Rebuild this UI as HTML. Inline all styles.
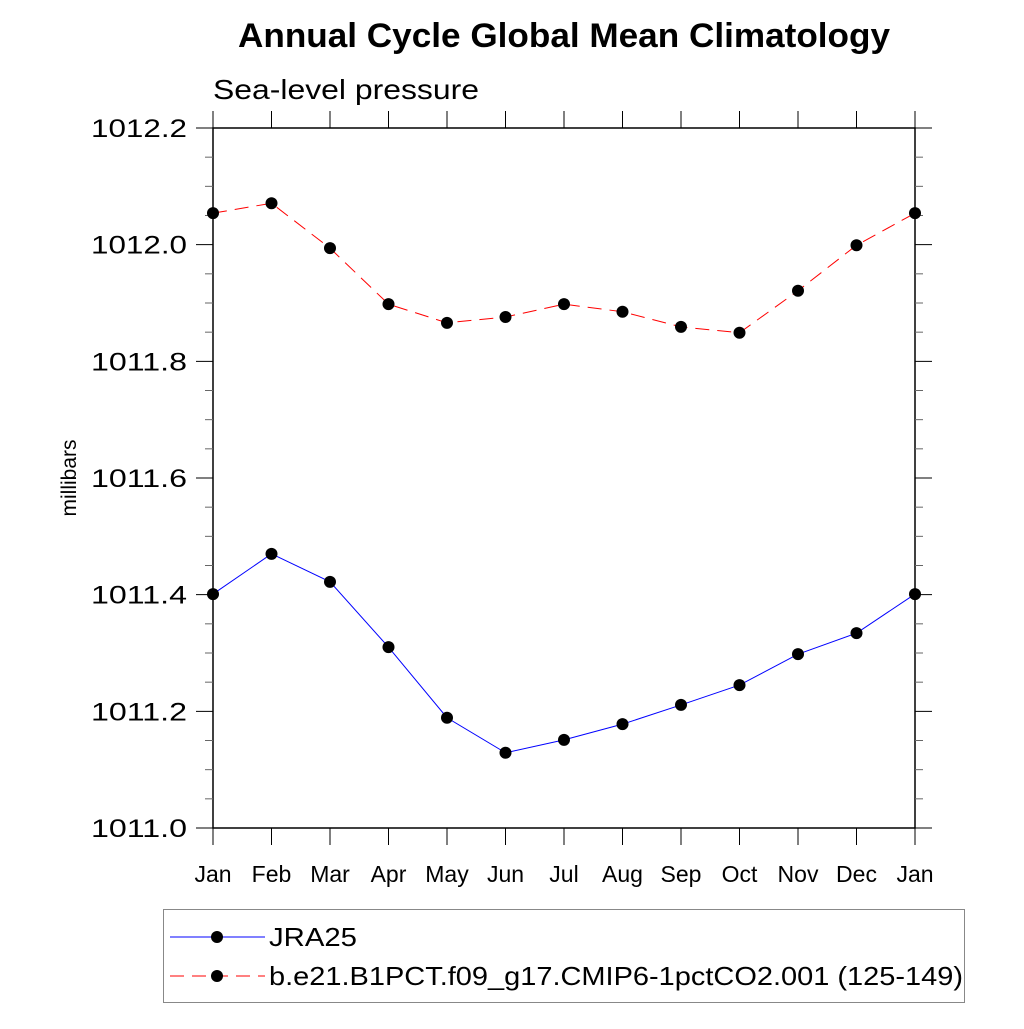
<!DOCTYPE html>
<html><head><meta charset="utf-8"><style>
body{margin:0;background:#fff}
svg text{font-family:"Liberation Sans",sans-serif}
</style></head><body>
<svg id="chart" width="1024" height="1024" xmlns="http://www.w3.org/2000/svg">
<text x="238" y="47" font-size="34" font-weight="bold" textLength="652" lengthAdjust="spacingAndGlyphs">Annual Cycle Global Mean Climatology</text>
<text x="213" y="99" font-size="28" textLength="266" lengthAdjust="spacingAndGlyphs">Sea-level pressure</text>
<text transform="translate(76,478) rotate(-90)" font-size="21" text-anchor="middle">millibars</text>
<g id="axes"></g>
<g id="series"></g>
<rect x="163.5" y="909.5" width="801" height="93" fill="none" stroke="#888" stroke-width="1"/>
<g>
<line x1="170" y1="937" x2="265" y2="937" stroke="#0000ff" stroke-width="1"/>
<circle cx="217" cy="937" r="6" fill="#000"/>
<text x="269" y="946" font-size="26" textLength="88" lengthAdjust="spacingAndGlyphs">JRA25</text></g>
<g>
<line x1="170" y1="976" x2="265" y2="976" stroke="#ff0000" stroke-width="1" stroke-dasharray="14,8"/>
<circle cx="217" cy="976" r="6" fill="#000"/>
<text x="269" y="985" font-size="26" textLength="694" lengthAdjust="spacingAndGlyphs">b.e21.B1PCT.f09_g17.CMIP6-1pctCO2.001 (125-149)</text></g>
</svg>
<script>
const months=["Jan","Feb","Mar","Apr","May","Jun","Jul","Aug","Sep","Oct","Nov","Dec","Jan"];
const yTicks=[1011.0,1011.2,1011.4,1011.6,1011.8,1012.0,1012.2];
const jra25=[1011.401,1011.470,1011.422,1011.310,1011.189,1011.129,1011.151,1011.178,1011.211,1011.245,1011.298,1011.334,1011.401];
const model=[1012.054,1012.071,1011.994,1011.898,1011.866,1011.876,1011.898,1011.885,1011.859,1011.849,1011.921,1011.999,1012.054];
const X0=213,X1=915,Y0=828,Y1=128,YMIN=1011.0,YMAX=1012.2;
const xs=i=>X0+(X1-X0)*i/(months.length-1);
const ys=v=>Y0-(v-YMIN)/(YMAX-YMIN)*(Y0-Y1);
const NS="http://www.w3.org/2000/svg";
function mk(tag,attrs,parent){const e=document.createElementNS(NS,tag);for(const k in attrs)e.setAttribute(k,attrs[k]);parent.appendChild(e);return e;}
const ax=document.getElementById('axes');
const frame=mk('rect',{x:X0,y:Y1,width:X1-X0,height:Y0-Y1,fill:'none',stroke:'#000','stroke-width':1.5},ax);


months.forEach((m,i)=>{const x=xs(i);
 mk('line',{x1:x,y1:Y0,x2:x,y2:Y0+17,stroke:'#000','stroke-width':1},ax);
 mk('line',{x1:x,y1:Y1,x2:x,y2:Y1-17,stroke:'#000','stroke-width':1},ax);
 const t=mk('text',{x:x,y:882,'font-size':23,'text-anchor':'middle'},ax);t.textContent=m;
 
 
});
for(let v=YMIN;v<=YMAX+1e-9;v+=0.05){const y=ys(v);const major=Math.abs(Math.round(v*5)-v*5)<1e-6;const L=major?17:8;
 mk('line',{x1:X0-L,y1:y,x2:X0,y2:y,stroke:major?'#000':'#666','stroke-width':1},ax);
 mk('line',{x1:X1,y1:y,x2:X1+L,y2:y,stroke:major?'#000':'#666','stroke-width':1},ax);}
yTicks.forEach(v=>{const t=mk('text',{x:187,y:ys(v)+9,'font-size':25,'text-anchor':'end',textLength:96,lengthAdjust:'spacingAndGlyphs'},ax);t.textContent=v.toFixed(1);
 
 });
const sg=document.getElementById('series');
function drawSeries(data,color,dash,name){
 const p=mk('polyline',{points:data.map((v,i)=>xs(i)+','+ys(v)).join(' '),fill:'none',stroke:color,'stroke-width':1,'stroke-dasharray':dash},sg);
 
 
 data.forEach((v,i)=>{const c=mk('circle',{cx:xs(i),cy:ys(v),r:6,fill:'#000'},sg);
  
  });
}
drawSeries(model,'#ff0000','14,8','model');
drawSeries(jra25,'#0000ff','none','jra25');
</script>
</body></html>
